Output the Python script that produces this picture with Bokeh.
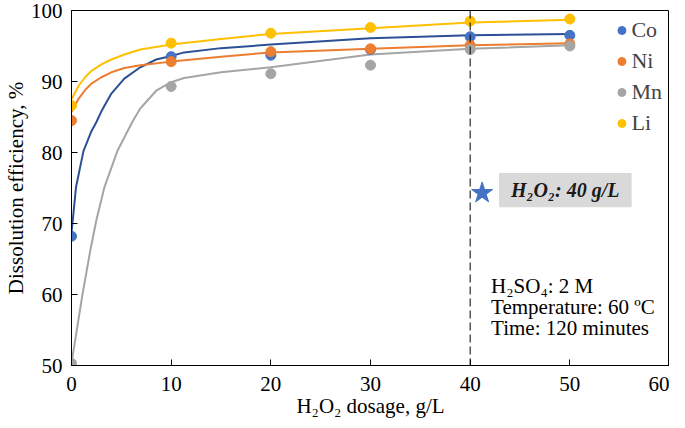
from bokeh.plotting import figure
from bokeh.models import Range1d, Span, Legend, LegendItem, FixedTicker
from bokeh.core.properties import value
from bokeh.embed import file_html
from bokeh.resources import INLINE

# ---- data ----
dosage = [0, 10, 20, 30, 40, 50]
co = [68.2, 93.5, 93.7, 94.5, 96.3, 96.5]
ni = [84.5, 92.8, 94.2, 94.6, 95.1, 95.3]
mn = [50.3, 89.3, 91.1, 92.3, 94.5, 95.0]
li = [86.6, 95.4, 96.8, 97.6, 98.5, 98.8]

# trend curves
co_fit_x = [0, 0.13, 0.45, 1.2, 2.0, 2.5, 3, 4, 5.3, 6.9, 8.5, 10, 11.3, 15, 20, 30, 40, 50]
co_fit_y = [68.7, 70.5, 75.1, 80.2, 83.0, 84.3, 85.8, 88.3, 90.4, 92.0, 93.1, 93.6, 94.1, 94.7, 95.2, 96.1, 96.5, 96.7]
ni_fit_x = [0, 0.72, 1.37, 2, 3, 4, 5.3, 6.9, 10, 15, 20, 30, 40, 50]
ni_fit_y = [85.7, 87.6, 88.8, 89.7, 90.6, 91.3, 91.9, 92.3, 92.8, 93.5, 94.1, 94.6, 95.1, 95.4]
mn_fit_x = [0, 1.1, 1.9, 2.5, 3.3, 4.6, 6.1, 6.9, 8.5, 10, 11.3, 15, 20, 30, 40, 50]
mn_fit_y = [50.3, 60.0, 66.3, 70.5, 75.1, 80.2, 84.3, 86.2, 88.7, 89.9, 90.5, 91.3, 92.0, 93.8, 94.6, 95.1]
li_fit_x = [0, 0.72, 1.37, 2, 3, 4, 5.3, 6.9, 10, 15, 20, 30, 40, 50]
li_fit_y = [87.5, 89.4, 90.6, 91.5, 92.4, 93.1, 93.8, 94.5, 95.2, 96.0, 96.7, 97.5, 98.3, 98.7]

series = ["Co", "Ni", "Mn", "Li"]
x_ticks = [0, 10, 20, 30, 40, 50, 60]
y_ticks = [50, 60, 70, 80, 90, 100]
optimum_dosage = 40
star_pos = (41.2, 74.3)
note_box = (42.9, 56.2, 72.3, 77.1)
note_text = "H\u2082O\u2082: 40 g/L"
cond_lines = ["H\u2082SO\u2084: 2 M", "Temperature: 60 \u00baC", "Time: 120 minutes"]
cond_x = 42.1
cond_y = [61.2, 58.2, 55.3]

marker_colors = ["#4472C4", "#ED7D31", "#A5A5A5", "#FFC000"]
line_colors = ["#2C4F96", "#ED7D31", "#A5A5A5", "#FFC000"]

FONT = "Liberation Serif"

p = figure(width=669, height=420, output_backend="svg", toolbar_location=None,
           x_range=Range1d(0, 60), y_range=Range1d(50, 100),
           min_border_left=0, min_border_right=0, min_border_top=10, min_border_bottom=0)
p.grid.visible = False
p.outline_line_color = "black"
p.outline_line_width = 1
p.background_fill_color = "white"
p.border_fill_color = "white"

for ax in (p.xaxis[0], p.yaxis[0]):
    ax.axis_line_color = "black"
    ax.major_tick_line_color = "black"
    ax.major_tick_in = 6
    ax.major_tick_out = 0
    ax.minor_tick_line_color = None
    ax.major_label_text_font = FONT
    ax.major_label_text_font_size = "21px"
    ax.major_label_text_color = "black"
    ax.axis_label_text_font = FONT
    ax.axis_label_text_font_size = "21px"
    ax.axis_label_text_font_style = "normal"
    ax.axis_label_text_color = "black"

p.xaxis.ticker = FixedTicker(ticks=x_ticks)
p.yaxis.ticker = FixedTicker(ticks=y_ticks)
p.xaxis.axis_label = "H\u2082O\u2082 dosage, g/L"
p.yaxis.axis_label = "Dissolution efficiency, %"
p.xaxis.major_label_standoff = 11
p.yaxis.major_label_standoff = 9
p.xaxis.axis_label_standoff = 0
p.yaxis.axis_label_standoff = 0

fits = [(co_fit_x, co_fit_y), (ni_fit_x, ni_fit_y), (mn_fit_x, mn_fit_y), (li_fit_x, li_fit_y)]
values = [co, ni, mn, li]
items = []
for (fx, fy), lc in zip(fits, line_colors):
    p.line(fx, fy, line_color=lc, line_width=2)
for name, vals, mc in zip(series, values, marker_colors):
    r = p.scatter(dosage, vals, size=10, marker="circle", fill_color=mc, line_color=mc)
    items.append(LegendItem(label=name, renderers=[r]))

p.add_layout(Span(location=optimum_dosage, dimension="height", line_color="black",
                  line_width=1, line_dash="8 4"))

p.quad(left=[note_box[0]], right=[note_box[1]], bottom=[note_box[2]], top=[note_box[3]],
       fill_color="#D9D9D9", line_color=None)
p.text(x=[note_box[0] + 1.2], y=[(note_box[2] + note_box[3]) / 2], text=[note_text],
       text_font=value(FONT), text_font_size="20px", text_font_style="bold italic",
       text_baseline="middle", text_align="left", text_color="#1a1a1a")
p.scatter([star_pos[0]], [star_pos[1]], marker="star", size=22,
          fill_color="#4472C4", line_color="#4472C4")

p.text(x=[cond_x] * 3, y=cond_y, text=cond_lines, text_font=value(FONT),
       text_font_size="21px", text_baseline="middle", text_align="left", text_color="black")

legend = Legend(items=items, location="top_right", border_line_color=None,
                background_fill_alpha=0, label_text_font=FONT, label_text_font_size="22px",
                label_standoff=0, spacing=5, glyph_width=20, glyph_height=20,
                margin=7, padding=4)
p.add_layout(legend)

open("out.html", "w").write(file_html(p, INLINE))
